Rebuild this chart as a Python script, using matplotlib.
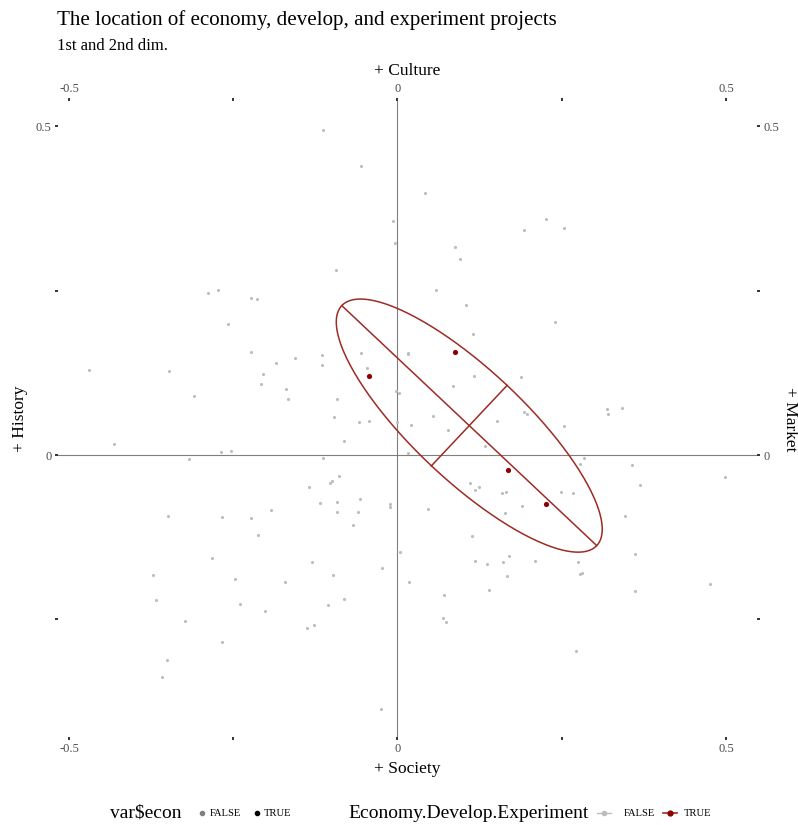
import numpy as np
import matplotlib.pyplot as plt
from matplotlib.lines import Line2D

# projects that are not economy/develop/experiment (grey)
other_x = [-0.113, -0.056, -0.007, -0.004, -0.094, -0.288, -0.273, -0.223, -0.214, -0.258,
           -0.056, -0.046, -0.115, -0.115, -0.223, -0.185, -0.156, -0.204, -0.207, -0.169,
           -0.166, -0.092, -0.097, -0.058, -0.044, -0.082, -0.470, -0.347, -0.309, -0.431,
           -0.268, -0.254, -0.002, 0.003, -0.001, -0.113,
           0.042, 0.226, 0.193, 0.254, 0.088, 0.095, 0.059, 0.105, 0.240, 0.115,
           0.016, 0.016, 0.117, 0.188, 0.084, 0.054, 0.021, 0.077, 0.151, 0.193,
           0.197, 0.254, 0.319, 0.321, 0.342, 0.133, 0.016,
           -0.318, -0.089, -0.100, -0.102, -0.135, -0.118, -0.092, -0.092, -0.057, -0.060,
           -0.067, -0.011, -0.011, -0.350, -0.267, -0.223, -0.193, -0.213, -0.282, -0.372,
           -0.367, -0.323, -0.248, -0.240, -0.202, -0.171, -0.130, -0.098, -0.081, -0.106,
           -0.137, -0.127, -0.023, -0.267, -0.351, -0.359, -0.025,
           0.284, 0.278, 0.357, 0.498, 0.369, 0.110, 0.124, 0.118, 0.159, 0.165,
           0.249, 0.267, 0.046, 0.190, 0.164, 0.346, 0.113, 0.004, 0.361, 0.118,
           0.137, 0.160, 0.170, 0.209, 0.274, 0.278, 0.281, 0.167, 0.018, 0.139,
           0.362, 0.475, 0.071, 0.070, 0.074, 0.272]
other_y = [0.495, 0.440, 0.356, 0.323, 0.282, 0.247, 0.251, 0.239, 0.237, 0.199,
           0.156, 0.133, 0.152, 0.137, 0.157, 0.140, 0.147, 0.123, 0.108, 0.100,
           0.086, 0.085, 0.058, 0.050, 0.052, 0.022, 0.129, 0.128, 0.090, 0.017,
           0.005, 0.006, 0.098, 0.094, 0.050, -0.004,
           0.399, 0.359, 0.342, 0.345, 0.316, 0.298, 0.251, 0.229, 0.203, 0.184,
           0.156, 0.154, 0.121, 0.119, 0.105, 0.060, 0.046, 0.038, 0.052, 0.066,
           0.062, 0.044, 0.070, 0.062, 0.071, 0.013, 0.003,
           -0.006, -0.032, -0.040, -0.043, -0.049, -0.073, -0.072, -0.086, -0.067, -0.086,
           -0.107, -0.074, -0.079, -0.093, -0.095, -0.096, -0.083, -0.121, -0.156, -0.183,
           -0.221, -0.253, -0.188, -0.227, -0.237, -0.193, -0.163, -0.183, -0.219, -0.229,
           -0.264, -0.258, -0.172, -0.285, -0.312, -0.338, -0.386,
           -0.005, -0.014, -0.015, -0.033, -0.045, -0.042, -0.049, -0.054, -0.058, -0.057,
           -0.056, -0.058, -0.082, -0.077, -0.089, -0.093, -0.124, -0.148, -0.150, -0.162,
           -0.166, -0.163, -0.153, -0.162, -0.163, -0.181, -0.180, -0.184, -0.193, -0.205,
           -0.207, -0.197, -0.213, -0.248, -0.254, -0.299]

# economy / develop / experiment projects (dark red)
econ_x = [-0.044, 0.087, 0.168, 0.226]
econ_y = [0.120, 0.157, -0.023, -0.075]

ellipse_scale = 1.73

plt.rcParams['font.family'] = ['Liberation Serif', 'DejaVu Serif']

fig = plt.figure(figsize=(7.98, 8.25), dpi=100)
ax = fig.add_axes([58/798, 1-737/825, 699/798, 636/825])

ax.axhline(0, color='#7f7f7f', lw=0.8, zorder=1)
ax.axvline(0, color='#7f7f7f', lw=0.8, zorder=1)

ax.scatter(other_x, other_y, s=5, color='#bdbdbd', linewidths=0, zorder=2)
ax.scatter(econ_x, econ_y, s=14, color='#8b0000', linewidths=0, zorder=4)

# ellipse from covariance of red group
pts = np.column_stack([econ_x, econ_y])
mu = pts.mean(axis=0)
cov = np.cov(pts.T)
vals, vecs = np.linalg.eigh(cov)
t = np.linspace(0, 2*np.pi, 300)
circ = np.vstack([np.cos(t), np.sin(t)])
ell = (vecs @ np.diag(ellipse_scale*np.sqrt(vals)) @ circ).T + mu
ell_col = '#9e2b25'
ax.plot(ell[:, 0], ell[:, 1], color=ell_col, lw=1.1, zorder=3)
for k in range(2):
    d = ellipse_scale*np.sqrt(vals[k])*vecs[:, k]
    ax.plot([mu[0]-d[0], mu[0]+d[0]], [mu[1]-d[1], mu[1]+d[1]], color=ell_col, lw=1.1, zorder=3)

ax.set_xlim(-0.5167, 0.5472)
ax.set_ylim(-0.4292, 0.5388)
for s in ax.spines.values():
    s.set_visible(False)

ax.set_xticks([-0.5, -0.25, 0, 0.25, 0.5])
ax.set_xticklabels(['-0.5', '', '0', '', '0.5'])
ax.set_yticks([-0.25, 0, 0.25, 0.5])
ax.set_yticklabels(['', '0', '', '0.5'])
ax.tick_params(axis='x', top=True, labeltop=True, bottom=True, labelbottom=True)
ax.tick_params(axis='y', left=True, labelleft=True, right=True, labelright=True)
ax.tick_params(length=2.5, width=1.4, color='#333333', labelcolor='#4d4d4d',
               labelsize=9, pad=2)

fig.text(0.5107, 1-71/825, '+ Culture', ha='center', va='center', fontsize=12.5)
fig.text(0.5107, 1-769/825, '+ Society', ha='center', va='center', fontsize=12.5)
fig.text(20/798, 1-419/825, '+ History', ha='center', va='center', rotation=90, fontsize=12.5)
fig.text(790/798, 1-419/825, '+ Market', ha='center', va='center', rotation=270, fontsize=12.5)

fig.text(57/798, 1-10/825, 'The location of economy, develop, and experiment projects',
         ha='left', va='top', fontsize=15.1)
fig.text(57/798, 1-38/825, '1st and 2nd dim.', ha='left', va='top', fontsize=12)

# legend row
ly = 1 - 813/825
fig.text(110/798, ly, r'var\$econ', ha='left', va='center', fontsize=14)
fig.add_artist(Line2D([202/798], [ly], marker='o', ms=3, color='#7f7f7f', lw=0))
fig.text(210/798, ly, 'FALSE', ha='left', va='center', fontsize=7.6)
fig.add_artist(Line2D([257/798], [ly], marker='o', ms=3, color='black', lw=0))
fig.text(264/798, ly, 'TRUE', ha='left', va='center', fontsize=7.6)
fig.text(348/798, ly, 'Economy.Develop.Experiment', ha='left', va='center', fontsize=14)
fig.add_artist(Line2D([597/798, 611/798], [ly, ly], color='#bdbdbd', lw=1))
fig.add_artist(Line2D([604/798], [ly], marker='o', ms=3, color='#bdbdbd', lw=0))
fig.text(624/798, ly, 'FALSE', ha='left', va='center', fontsize=7.6)
fig.add_artist(Line2D([663/798, 677/798], [ly, ly], color='#9e2b25', lw=1.2))
fig.add_artist(Line2D([670/798], [ly], marker='o', ms=3.5, color='#8b0000', lw=0))
fig.text(684/798, ly, 'TRUE', ha='left', va='center', fontsize=7.6)

fig.savefig('out.png', dpi=100)
